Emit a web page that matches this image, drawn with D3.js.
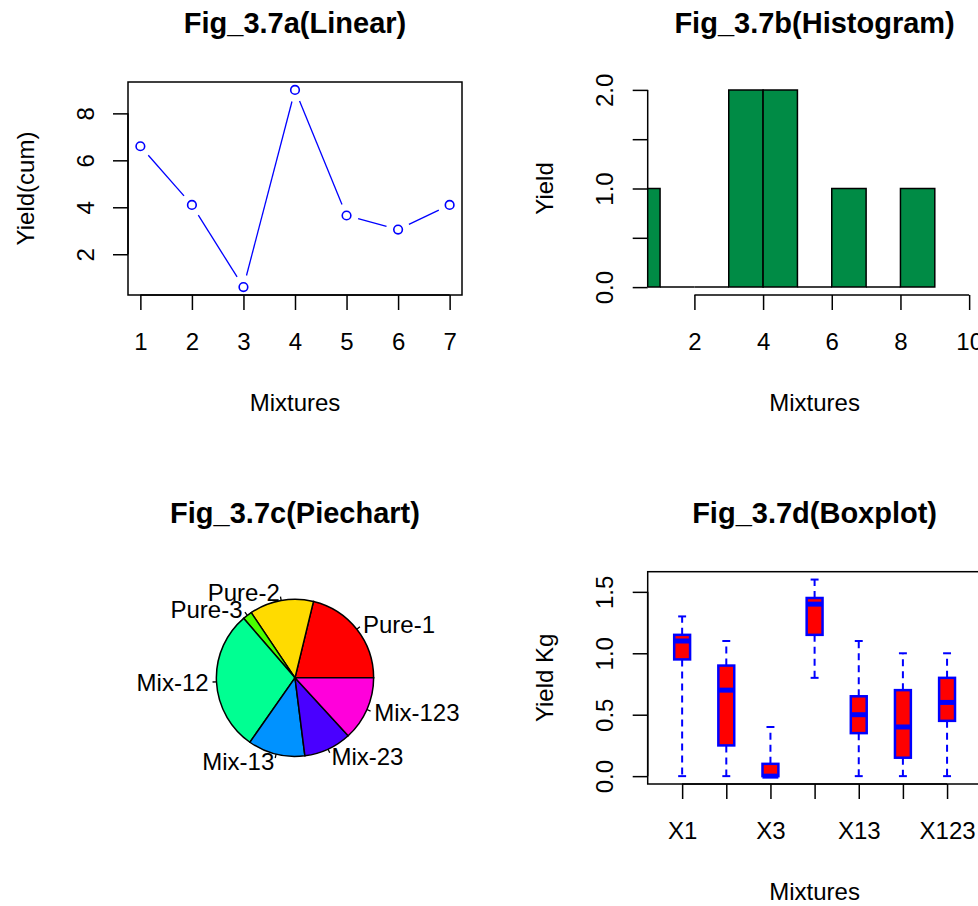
<!DOCTYPE html>
<html>
<head>
    <title>Fig 3.7</title>
    <script src="https://cdn.jsdelivr.net/npm/d3@7"></script>
    <style>
        body { margin: 0; background: #fff; }
        text { font-family: "Liberation Sans", Arial, sans-serif; fill: #000; }
    </style>
</head>
<body>
    <div id="chart"></div>
    <script type="text/javascript">
        // data
        var mixtures = [1, 2, 3, 4, 5, 6, 7];
        var yieldCum = [6.6, 4.1, 0.6, 9.0, 3.65, 3.05, 4.1];

        var pieLabels = ["Pure-1", "Pure-2", "Pure-3", "Mix-12", "Mix-13", "Mix-23", "Mix-123"];
        var pieColors = ["#FF0000", "#FFDB00", "#49FF00", "#00FF92", "#0092FF", "#4900FF", "#FF00DB"];

        var boxNames = ["X1", "X2", "X3", "X12", "X13", "X23", "X123"];
        var boxLow  = [0,    0,    0,   0.8,  0,    0,    0];
        var boxQ1   = [0.95, 0.25, 0,   1.15, 0.35, 0.15, 0.45];
        var boxMed  = [1.1,  0.7,  0,   1.4,  0.5,  0.4,  0.6];
        var boxQ3   = [1.15, 0.9,  0.1, 1.45, 0.65, 0.7,  0.8];
        var boxHigh = [1.3,  1.1,  0.4, 1.6,  1.1,  1.0,  1.0];

        var width = 978;
        var height = 906;
        var fs = 24;       // base font size
        var tickLen = 15;

        // plot regions
        var colL = [128, 647.7], colR = [462, 981.5];
        var rowT = [82, 571.7], rowB = [295, 784];

        // R style 4% axis expansion
        function expand(ext) {
            var d = (ext[1] - ext[0]) * 0.04;
            return [ext[0] - d, ext[1] + d];
        }

        var svg = d3.select("#chart").append("svg")
            .attr('width', width)
            .attr('height', height)
            .style('background', '#fff');

        function title(txt, c, r) {
            svg.append("text")
                .attr("x", (colL[c] + colR[c]) / 2)
                .attr("y", rowT[r] - 49)
                .attr("text-anchor", "middle")
                .style("font-size", "29px")
                .style("font-weight", "bold")
                .text(txt);
        }

        function xTitle(txt, c, r) {
            svg.append("text")
                .attr("x", (colL[c] + colR[c]) / 2)
                .attr("y", rowB[r] + 107)
                .attr("text-anchor", "middle")
                .attr("dominant-baseline", "central")
                .style("font-size", fs + "px")
                .text(txt);
        }

        function yTitle(txt, c, r) {
            svg.append("text")
                .attr("transform", "translate(" + (colL[c] - 103) + "," + ((rowT[r] + rowB[r]) / 2) + ") rotate(-90)")
                .attr("text-anchor", "middle")
                .attr("dominant-baseline", "central")
                .style("font-size", fs + "px")
                .text(txt);
        }

        // R like axes: line only from first to last tick
        function bottomAxis(x, ticks, fmt, c, r) {
            var g = svg.append("g").attr("transform", "translate(0," + rowB[r] + ")");
            g.call(d3.axisBottom(x).tickValues(ticks).tickFormat(fmt).tickSize(tickLen).tickSizeOuter(0));
            g.select(".domain").remove();
            g.append("line")
                .attr("x1", x(ticks[0])).attr("x2", x(ticks[ticks.length - 1]))
                .attr("stroke", "#000").attr("stroke-width", 1.5);
            g.selectAll(".tick line").attr("stroke", "#000").attr("stroke-width", 1.5);
            g.selectAll(".tick text")
                .attr("y", 46).attr("dy", null)
                .attr("dominant-baseline", "central")
                .style("font-size", fs + "px");
            g.attr("font-family", null).attr("font-size", null);
            return g;
        }

        function leftAxis(y, ticks, fmt, c, r) {
            var g = svg.append("g").attr("transform", "translate(" + colL[c] + ",0)");
            g.call(d3.axisLeft(y).tickValues(ticks).tickFormat(fmt).tickSize(tickLen).tickSizeOuter(0));
            g.select(".domain").remove();
            g.append("line")
                .attr("y1", y(ticks[0])).attr("y2", y(ticks[ticks.length - 1]))
                .attr("stroke", "#000").attr("stroke-width", 1.5);
            g.selectAll(".tick line").attr("stroke", "#000").attr("stroke-width", 1.5);
            g.selectAll(".tick text")
                .attr("x", null).attr("dy", null)
                .attr("transform", "translate(-43,0) rotate(-90)")
                .attr("text-anchor", "middle")
                .attr("dominant-baseline", "central")
                .style("font-size", fs + "px");
            g.attr("font-family", null).attr("font-size", null);
            return g;
        }

        function frame(c, r) {
            svg.append("rect")
                .attr("x", colL[c]).attr("y", rowT[r])
                .attr("width", colR[c] - colL[c]).attr("height", rowB[r] - rowT[r])
                .attr("fill", "none").attr("stroke", "#000").attr("stroke-width", 1.5);
        }

        // ---------- Fig a : linear ----------
        var xA = d3.scaleLinear().domain(expand([1, 7])).range([colL[0], colR[0]]);
        var yA = d3.scaleLinear().domain(expand(d3.extent(yieldCum))).range([rowB[0], rowT[0]]);

        var ptsA = mixtures.map(function(m, i) { return [xA(m), yA(yieldCum[i])]; });
        var gap = 12;   // type="b" leaves a gap round each point
        svg.append("g").selectAll("line")
            .data(d3.pairs(ptsA))
            .enter().append("line")
                .each(function(d) {
                    var dx = d[1][0] - d[0][0], dy = d[1][1] - d[0][1];
                    var len = Math.sqrt(dx * dx + dy * dy);
                    var ux = dx / len, uy = dy / len;
                    d3.select(this)
                        .attr("x1", d[0][0] + ux * gap).attr("y1", d[0][1] + uy * gap)
                        .attr("x2", d[1][0] - ux * gap).attr("y2", d[1][1] - uy * gap);
                })
                .attr("stroke", "#0000FF").attr("stroke-width", 1.3);

        svg.append("g").selectAll("circle")
            .data(ptsA)
            .enter().append("circle")
                .attr("cx", function(d) { return d[0]; })
                .attr("cy", function(d) { return d[1]; })
                .attr("r", 4.3)
                .attr("fill", "none")
                .attr("stroke", "#0000FF").attr("stroke-width", 1.6);

        frame(0, 0);
        bottomAxis(xA, mixtures, d3.format("d"), 0, 0);
        leftAxis(yA, [2, 4, 6, 8], d3.format("d"), 0, 0);
        title("Fig_3.7a(Linear)", 0, 0);
        xTitle("Mixtures", 0, 0);
        yTitle("Yield(cum)", 0, 0);

        // ---------- Fig b : histogram ----------
        var bins = d3.bin().domain([0, 9]).thresholds(d3.range(1, 9))(yieldCum);
        var xB = d3.scaleLinear().domain(expand([1, 10])).range([colL[1], colR[1]]);
        var yB = d3.scaleLinear().domain(expand([0, 2])).range([rowB[0], rowT[0]]);

        svg.append("clipPath").attr("id", "clipB")
            .append("rect")
                .attr("x", colL[1]).attr("y", rowT[0])
                .attr("width", colR[1] - colL[1]).attr("height", rowB[0] - rowT[0]);

        svg.append("g").attr("clip-path", "url(#clipB)")
            .selectAll("path")
            .data(bins)
            .enter().append("path")
                .attr("d", function(d) {
                    return "M" + xB(d.x0) + "," + yB(0) + "V" + yB(d.length) +
                        "H" + xB(d.x1) + "V" + yB(0) + "Z";
                })
                .attr("fill", "#008B45")
                .attr("stroke", "#000").attr("stroke-width", 1.5);

        bottomAxis(xB, [2, 4, 6, 8, 10], d3.format("d"), 1, 0);
        leftAxis(yB, [0, 0.5, 1, 1.5, 2], function(d) { return d % 1 === 0 ? d3.format(".1f")(d) : ""; }, 1, 0);
        title("Fig_3.7b(Histogram)", 1, 0);
        xTitle("Mixtures", 1, 0);
        yTitle("Yield", 1, 0);

        // ---------- Fig c : pie ----------
        var unit = (rowB[1] - rowT[1]) / 2.16;
        var cx = (colL[0] + colR[0]) / 2, cy = (rowT[1] + rowB[1]) / 2;
        var rad = 0.8 * unit;

        var pie = d3.pie().sort(null)
            .startAngle(Math.PI / 2)
            .endAngle(Math.PI / 2 - 2 * Math.PI);
        var arcs = pie(yieldCum);
        var arc = d3.arc().innerRadius(0).outerRadius(rad);

        var gC = svg.append("g").attr("transform", "translate(" + cx + "," + cy + ")");
        gC.selectAll("path")
            .data(arcs)
            .enter().append("path")
                .attr("d", arc)
                .attr("fill", function(d, i) { return pieColors[i]; })
                .attr("stroke", "#000").attr("stroke-width", 1.5);

        arcs.forEach(function(d, i) {
            var a = (d.startAngle + d.endAngle) / 2;
            var sx = Math.sin(a), sy = -Math.cos(a);
            gC.append("line")
                .attr("x1", sx * rad).attr("y1", sy * rad)
                .attr("x2", sx * rad * 1.05).attr("y2", sy * rad * 1.05)
                .attr("stroke", "#000").attr("stroke-width", 1.3);
            gC.append("text")
                .attr("x", sx * rad * 1.1).attr("y", sy * rad * 1.1)
                .attr("text-anchor", sx < 0 ? "end" : "start")
                .attr("dominant-baseline", "central")
                .style("font-size", fs + "px")
                .text(pieLabels[i]);
        });
        title("Fig_3.7c(Piechart)", 0, 1);

        // ---------- Fig d : boxplot ----------
        var xD = d3.scaleLinear().domain(expand([0.5, boxNames.length + 0.5])).range([colL[1], colR[1]]);
        var yD = d3.scaleLinear().domain(expand([d3.min(boxLow), d3.max(boxHigh)])).range([rowB[1], rowT[1]]);
        var hw = 0.18, cw = 0.09;

        var boxes = boxNames.map(function(n, i) {
            return { i: i + 1, lo: boxLow[i], q1: boxQ1[i], med: boxMed[i], q3: boxQ3[i], hi: boxHigh[i] };
        });

        var gD = svg.append("g").selectAll("g")
            .data(boxes)
            .enter().append("g");

        gD.append("line")
            .attr("x1", function(d) { return xD(d.i); }).attr("x2", function(d) { return xD(d.i); })
            .attr("y1", function(d) { return yD(d.q3); }).attr("y2", function(d) { return yD(d.hi); })
            .attr("stroke", "#0000FF").attr("stroke-width", 2).attr("stroke-dasharray", "7,5");
        gD.append("line")
            .attr("x1", function(d) { return xD(d.i); }).attr("x2", function(d) { return xD(d.i); })
            .attr("y1", function(d) { return yD(d.q1); }).attr("y2", function(d) { return yD(d.lo); })
            .attr("stroke", "#0000FF").attr("stroke-width", 2).attr("stroke-dasharray", "7,5");
        ["hi", "lo"].forEach(function(k) {
            gD.append("line")
                .attr("x1", function(d) { return xD(d.i - cw); }).attr("x2", function(d) { return xD(d.i + cw); })
                .attr("y1", function(d) { return yD(d[k]); }).attr("y2", function(d) { return yD(d[k]); })
                .attr("stroke", "#0000FF").attr("stroke-width", 2);
        });
        gD.append("rect")
            .attr("x", function(d) { return xD(d.i - hw); })
            .attr("width", function(d) { return xD(d.i + hw) - xD(d.i - hw); })
            .attr("y", function(d) { return yD(d.q3); })
            .attr("height", function(d) { return Math.max(yD(d.q1) - yD(d.q3), 0); })
            .attr("fill", "#FF0000")
            .attr("stroke", "#0000FF").attr("stroke-width", 2.5);
        gD.append("line")
            .attr("x1", function(d) { return xD(d.i - hw); }).attr("x2", function(d) { return xD(d.i + hw); })
            .attr("y1", function(d) { return yD(d.med); }).attr("y2", function(d) { return yD(d.med); })
            .attr("stroke", "#0000FF").attr("stroke-width", 5);

        frame(1, 1);
        bottomAxis(xD, d3.range(1, boxNames.length + 1), function(d, i) { return i % 2 === 0 ? boxNames[i] : ""; }, 1, 1);
        leftAxis(yD, [0, 0.5, 1, 1.5], d3.format(".1f"), 1, 1);
        title("Fig_3.7d(Boxplot)", 1, 1);
        xTitle("Mixtures", 1, 1);
        yTitle("Yield Kg", 1, 1);
    </script>
</body>
</html>
